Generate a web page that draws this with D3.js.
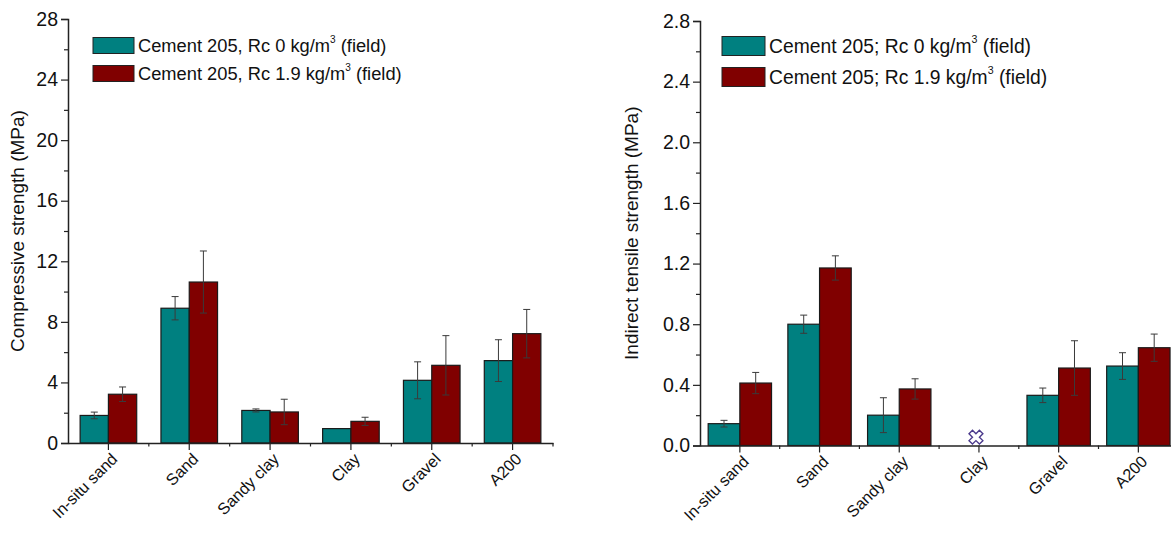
<!DOCTYPE html>
<html>
<head>
<meta charset="utf-8">
<script src="https://cdn.jsdelivr.net/npm/d3@7"></script>
<style>
  html, body { margin: 0; padding: 0; background: #fff; }
  svg { display: block; font-family: "Liberation Sans", Arial, sans-serif; }
</style>
</head>
<body>
<svg id="chart" width="1171" height="536"></svg>
<script>
// ---------- data ----------
const categories = ["In-situ sand", "Sand", "Sandy clay", "Clay", "Gravel", "A200"];

// Compressive strength (MPa)
const compRc0     = [1.82, 8.9, 2.15, 0.95, 4.14, 5.44];
const compRc0Err  = [0.22, 0.77, 0.10, 0, 1.22, 1.38];
const compRc19    = [3.22, 10.63, 2.05, 1.43, 5.13, 7.22];
const compRc19Err = [0.48, 2.05, 0.84, 0.27, 1.96, 1.60];
const compTicks   = [0, 4, 8, 12, 16, 20, 24, 28];

// Indirect tensile strength (MPa)
const tensRc0     = [0.144, 0.80, 0.20, null, 0.331, 0.524];
const tensRc0Err  = [0.022, 0.06, 0.115, 0, 0.048, 0.088];
const tensRc19    = [0.412, 1.171, 0.373, null, 0.511, 0.645];
const tensRc19Err = [0.07, 0.08, 0.067, 0, 0.18, 0.09];
const tensTicks   = [0, 0.4, 0.8, 1.2, 1.6, 2.0, 2.4, 2.8];
const tensNoData  = [{ category: "Clay", value: 0.055 }];

const legendLeft  = ["Cement 205, Rc 0 kg/m", "Cement 205, Rc 1.9 kg/m"];
const legendRight = ["Cement 205; Rc 0 kg/m", "Cement 205; Rc 1.9 kg/m"];

const colTeal = "#008080";
const colRed  = "#800000";

const svg = d3.select("#chart");

function drawPanel(cfg) {
  const g = svg.append("g");
  const x = d3.scaleBand().domain(categories).range([cfg.x0, cfg.x1]).padding(0);
  const y = d3.scaleLinear().domain([0, cfg.max]).range([cfg.y0, cfg.y1]);
  const bw = x.bandwidth() * cfg.groupFrac / 2;

  // bars
  const series = [
    { vals: cfg.s0, err: cfg.e0, color: colTeal, off: -1 },
    { vals: cfg.s1, err: cfg.e1, color: colRed, off: 0 }
  ];
  series.forEach(s => {
    const data = categories.map((c, i) => ({ c, v: s.vals[i], e: s.err[i] })).filter(d => d.v != null);
    g.selectAll(null).data(data).enter().append("rect")
      .attr("x", d => x(d.c) + x.bandwidth() / 2 + s.off * bw)
      .attr("y", d => y(d.v))
      .attr("width", bw)
      .attr("height", d => y(0) - y(d.v))
      .attr("fill", s.color)
      .attr("stroke", "#1a1a1a")
      .attr("stroke-width", 1.2);
    const eb = data.filter(d => d.e > 0);
    const cx = d => x(d.c) + x.bandwidth() / 2 + s.off * bw + bw / 2;
    g.selectAll(null).data(eb).enter().append("line")
      .attr("x1", cx).attr("x2", cx)
      .attr("y1", d => y(d.v + d.e)).attr("y2", d => y(d.v - d.e))
      .attr("stroke", "#3a3a3a").attr("stroke-width", 1);
    [1, -1].forEach(sg => {
      g.selectAll(null).data(eb).enter().append("line")
        .attr("x1", d => cx(d) - 3.5).attr("x2", d => cx(d) + 3.5)
        .attr("y1", d => y(d.v + sg * d.e)).attr("y2", d => y(d.v + sg * d.e))
        .attr("stroke", "#3a3a3a").attr("stroke-width", 1);
    });
  });

  // y axis
  const minor = d3.range(0, cfg.ticks.length - 1).map(i => (cfg.ticks[i] + cfg.ticks[i + 1]) / 2);
  const yAx = g.append("g").attr("transform", `translate(${cfg.x0},0)`)
    .call(d3.axisLeft(y).tickValues(cfg.ticks).tickSize(7).tickPadding(3).tickFormat(cfg.fmt));
  g.append("g").attr("transform", `translate(${cfg.x0},0)`)
    .call(d3.axisLeft(y).tickValues(minor).tickSize(4).tickFormat(""))
    .call(a => a.select(".domain").remove());

  // x axis
  g.append("g").attr("transform", `translate(0,${cfg.y0})`)
    .call(d3.axisBottom(x).tickSize(7).tickSizeOuter(0).tickFormat(""));
  const bounds = categories.slice(1).map(c => x(c)).concat([cfg.x1]);
  g.selectAll(null).data(bounds).enter().append("line")
    .attr("x1", d => d).attr("x2", d => d)
    .attr("y1", cfg.y0).attr("y2", cfg.y0 + 3.5)
    .attr("stroke", "#222").attr("stroke-width", 1.2);

  g.selectAll(".domain").attr("stroke", "#222").attr("stroke-width", 1.5);
  g.selectAll(".tick line").attr("stroke", "#222").attr("stroke-width", 1.2);
  yAx.selectAll(".tick text").attr("font-size", 19.5).attr("fill", "#111")
    .attr("font-family", "Liberation Sans, Arial, sans-serif");

  // category labels
  g.selectAll(null).data(categories).enter().append("text")
    .attr("transform", d => `translate(${x(d) + x.bandwidth() / 2 + 6},${cfg.y0 + 13}) rotate(-45)`)
    .attr("text-anchor", "end")
    .attr("dy", "0.35em")
    .attr("font-size", 16.2)
    .attr("fill", "#111")
    .text(d => d);

  // y title
  g.append("text")
    .attr("transform", `translate(${cfg.titleX},${(cfg.y0 + cfg.y1) / 2 + cfg.titleDy}) rotate(-90)`)
    .attr("text-anchor", "middle")
    .attr("font-size", cfg.titleSize)
    .attr("fill", "#111")
    .text(cfg.title);

  // legend
  cfg.legend.forEach((t, i) => {
    const ly = cfg.legY + i * cfg.legGap;
    g.append("rect")
      .attr("x", cfg.legX).attr("y", ly - cfg.swH / 2)
      .attr("width", cfg.swW).attr("height", cfg.swH)
      .attr("fill", i === 0 ? colTeal : colRed)
      .attr("stroke", "#222").attr("stroke-width", 1);
    const tx = g.append("text")
      .attr("x", cfg.legX + cfg.swW + 4).attr("y", ly)
      .attr("dy", "0.36em")
      .attr("font-size", cfg.legSize)
      .attr("fill", "#111");
    tx.append("tspan").text(t);
    tx.append("tspan").attr("font-size", cfg.legSize * 0.55).attr("dy", "-0.95em").text("3");
    tx.append("tspan").attr("dy", "0.52em").text(" (field)");
  });

  return { g, x, y };
}

drawPanel({
  x0: 68, x1: 553, y0: 443, y1: 19, max: 28,
  ticks: compTicks, fmt: d3.format("d"),
  s0: compRc0, e0: compRc0Err, s1: compRc19, e1: compRc19Err,
  groupFrac: 0.70,
  title: "Compressive strength (MPa)", titleX: 24, titleDy: 0, titleSize: 19,
  legend: legendLeft, legX: 93, legY: 45.5, legGap: 28, swW: 41, swH: 16, legSize: 18.3
});

const right = drawPanel({
  x0: 700, x1: 700 + 6 * 79.7, y0: 445.5, y1: 21, max: 2.8,
  ticks: tensTicks, fmt: d3.format(".1f"),
  s0: tensRc0, e0: tensRc0Err, s1: tensRc19, e1: tensRc19Err,
  groupFrac: 0.795,
  title: "Indirect tensile strength (MPa)", titleX: 638, titleDy: 0, titleSize: 19,
  legend: legendRight, legX: 722, legY: 46, legGap: 31, swW: 43, swH: 19, legSize: 19.3
});

// no-data marker for Clay in tensile panel
right.g.selectAll(null).data(tensNoData).enter().append("path")
  .attr("d", d3.symbol(d3.symbolCross, 120))
  .attr("transform", d => `translate(${right.x(d.category) + right.x.bandwidth() / 2 - 3},${right.y(d.value)}) rotate(45)`)
  .attr("fill", "#fff")
  .attr("stroke", "#4b3a8c")
  .attr("stroke-width", 1.4);
</script>
</body>
</html>
